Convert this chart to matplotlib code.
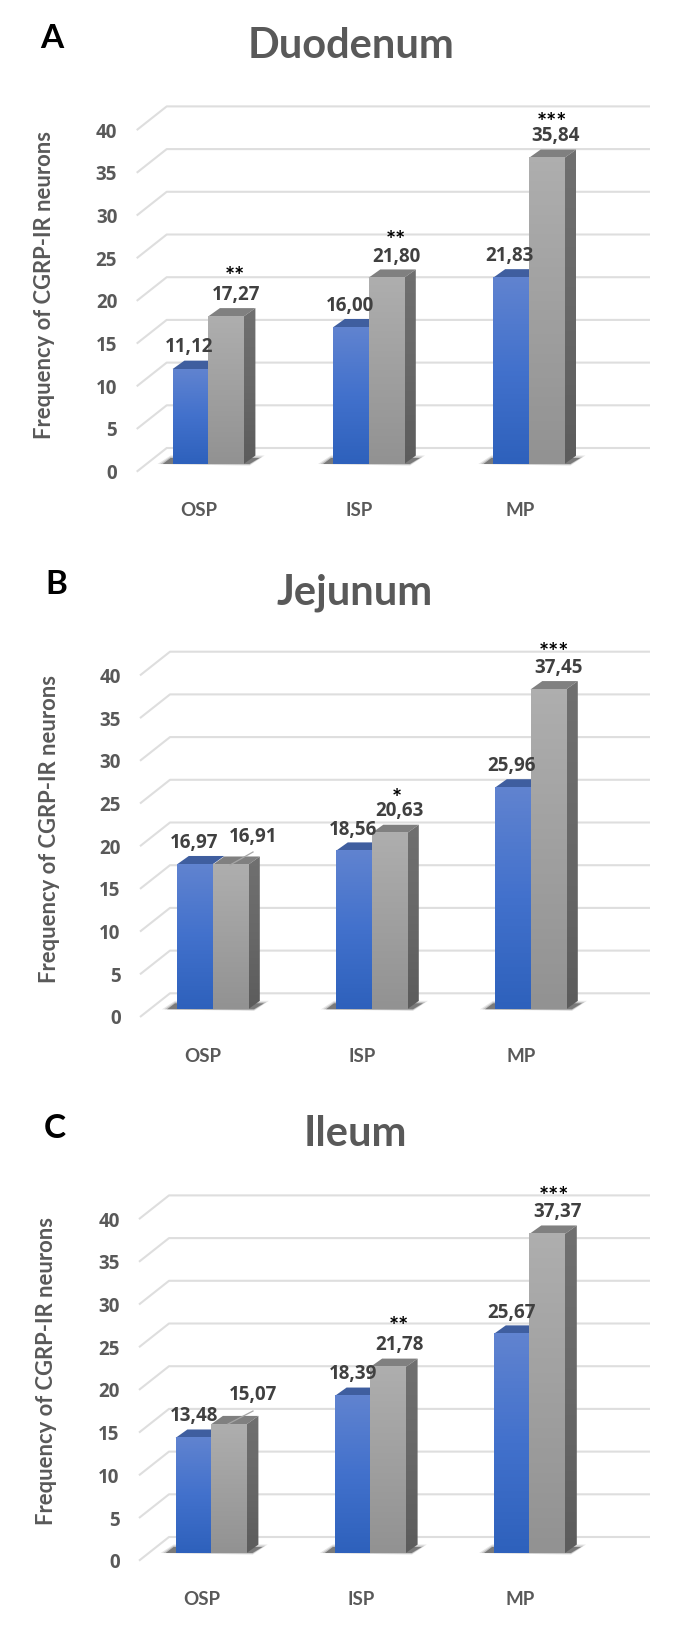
import numpy as np
import matplotlib
matplotlib.use("Agg")
import matplotlib.pyplot as plt
from matplotlib.patches import Polygon

plt.rcParams['font.family'] = ['Lato', 'DejaVu Sans']
plt.rcParams['font.weight'] = 'bold'

W, H = 673, 1626

#DATA
categories = ["OSP", "ISP", "MP"]
y_ticks = [0, 5, 10, 15, 20, 25, 30, 35, 40]
titles = ["Duodenum", "Jejunum", "Ileum"]
letters = ["A", "B", "C"]
ylabel = "Frequency of CGRP-IR neurons"

blue_duodenum = [11.12, 16.00, 21.83]
grey_duodenum = [17.27, 21.80, 35.84]
blue_jejunum = [16.97, 18.56, 25.96]
grey_jejunum = [16.91, 20.63, 37.45]
blue_ileum = [13.48, 18.39, 25.67]
grey_ileum = [15.07, 21.78, 37.37]

stars_duodenum = ["**", "**", "***"]
stars_jejunum = ["", "*", "***"]
stars_ileum = ["", "**", "***"]

blue_all = [blue_duodenum, blue_jejunum, blue_ileum]
grey_all = [grey_duodenum, grey_jejunum, grey_ileum]
stars_all = [stars_duodenum, stars_jejunum, stars_ileum]

#LAYOUT (pixels of the figure)
front_x = [136.7, 140, 139]
front_y = [471.7, 1017, 1560.7]
group_x = [172.6, 177, 175.6]
group_step = [160.4, 159, 159.2]
title_pos = [(351, 46), (355, 593), (355, 1134)]
letter_pos = [(52, 39), (56, 585), (55, 1128)]
ylabel_pos = [(45, 285), (50, 829), (47, 1371)]
blue_lab = [[(189, 347), (350, 306), (509, 256)],
            [(194, 843), (353, 830), (512, 766)],
            [(194, 1416), (353, 1374), (512, 1313)]]
grey_lab = [[(236, 295), (396, 257), (556, 136)],
            [(253, 837), (399, 811), (559, 668)],
            [(253, 1395), (399, 1345), (558, 1212)]]
star_lab = [[(235, 278), (396, 241), (552, 123)],
            [None, (397, 799), (554, 653)],
            [None, (399, 1327), (554, 1197)]]
leaders = [None, ((230, 865), (253, 852)), ((228, 1424), (253, 1411))]

px_unit = 8.54
bar_w = 35.5
base_up = 7.7
grid_dx, grid_dy = 30, 23.7
bar_dx, bar_dy = 11.8, 8.4


def fig_xy(p):
    return p[0] / W, 1 - p[1] / H


def blend(c1, c2, c3, n=64):
    # vertical gradient, top colour first
    c1, c2, c3 = [np.array(matplotlib.colors.to_rgb(c)) for c in (c1, c2, c3)]
    t = np.linspace(0, 1, n)[:, None]
    return np.where(t < 0.5, c1 + (c2 - c1) * t * 2, c2 + (c3 - c2) * (t - 0.5) * 2)[:, None, :]


blue_grad = blend("#6083D0", "#4271CC", "#2E61BC")
grey_grad = blend("#AEAEAE", "#A0A0A0", "#929292")
side_grad = blend("#707070", "#686868", "#5C5C5C")

fig = plt.figure(figsize=(W / 100, H / 100), dpi=100)

for p in range(3):
    left = front_x[p]
    right = 650
    step = group_step[p]
    x0 = group_x[p]
    ax = fig.add_axes([left / W, 1 - front_y[p] / H, (right - left) / W, 40 * px_unit / H])

    # x in group units, y in chart values
    xlim = ((left - x0) / step, (right - x0) / step)
    dx = lambda v: v / step
    dy = lambda v: v / px_unit
    bw = dx(bar_w)
    base = dy(base_up)

    # gridlines run back from the front edge and then across
    for t in y_ticks:
        ax.plot([xlim[0], xlim[0] + dx(grid_dx), xlim[1]],
                [t, t + dy(grid_dy), t + dy(grid_dy)],
                color="#DEDEDE", lw=1.5, zorder=1, clip_on=False, solid_capstyle="butt")

    for i in range(3):
        xb = i
        xg = i + bw
        xr = i + 2 * bw
        bar_sx, bar_sy = dx(bar_dx), dy(bar_dy)

        # shadow on the floor
        for grow, a in [(5, 0.12), (2.5, 0.2), (0, 0.5)]:
            shadow = [(xb - dx(10 + grow), base), (xb - dx(2), base + dy(6 + grow / 2)),
                      (xr + dx(16 + grow), base + dy(6 + grow / 2)), (xr + dx(6), base - dy(grow / 3))]
            ax.add_patch(Polygon(shadow, closed=True, fc="#333333", ec="none", alpha=a, zorder=2))

        # blue bar, then the grey one in front of its side
        top = blue_all[p][i] + base
        ax.add_patch(Polygon([(xb, top), (xb + bar_sx, top + bar_sy), (xg + bar_sx, top + bar_sy), (xg, top)],
                             closed=True, fc="#3F5E9F", ec="none", zorder=3))
        ax.imshow(blue_grad, extent=[xb, xg, base, top], aspect="auto", zorder=4)

        top = grey_all[p][i] + base
        ax.add_patch(Polygon([(xg, top), (xg + bar_sx, top + bar_sy), (xr + bar_sx, top + bar_sy), (xr, top)],
                             closed=True, fc="#808080", ec="none", zorder=5))
        side = Polygon([(xr, base), (xr + bar_sx, base + bar_sy), (xr + bar_sx, top + bar_sy), (xr, top)],
                       closed=True, transform=ax.transData, fc="none", ec="none")
        ax.add_patch(side)
        im = ax.imshow(side_grad, extent=[xr, xr + bar_sx, base, top + bar_sy], aspect="auto", zorder=5)
        im.set_clip_path(side)
        ax.imshow(grey_grad, extent=[xg, xr, base, top], aspect="auto", zorder=6)

    ax.set_xlim(xlim)
    ax.set_ylim(0, 40)
    ax.patch.set_alpha(0)
    for s in ax.spines.values():
        s.set_visible(False)
    ax.set_yticks(y_ticks)
    ax.set_yticklabels([str(t) for t in y_ticks], fontsize=13.5, color="#595959", family="Open Sans")
    ax.set_xticks([i + 0.165 for i in range(3)])
    ax.set_xticklabels(categories, fontsize=13.5, color="#595959")
    ax.tick_params(axis="y", length=0, pad=14)
    ax.tick_params(axis="x", length=0, pad=22)

    # data labels, stars and the titles are placed by hand like in the original
    for i in range(3):
        x, y = fig_xy(blue_lab[p][i])
        fig.text(x, y, f"{blue_all[p][i]:.2f}".replace(".", ","), fontsize=13.5, color="#404040",
                 family="Open Sans", ha="center", va="center", zorder=10)
        x, y = fig_xy(grey_lab[p][i])
        fig.text(x, y, f"{grey_all[p][i]:.2f}".replace(".", ","), fontsize=13.5, color="#404040",
                 family="Open Sans", ha="center", va="center", zorder=10)
        if star_lab[p][i] is not None:
            x, y = fig_xy(star_lab[p][i])
            fig.text(x, y, stars_all[p][i], fontsize=17, color="black", ha="center", va="center", zorder=10)

    if leaders[p] is not None:
        a, b = leaders[p]
        fig.add_artist(plt.Line2D([a[0] / W, b[0] / W], [1 - a[1] / H, 1 - b[1] / H],
                                  color="#A6A6A6", lw=0.9, zorder=9))

    x, y = fig_xy(title_pos[p])
    fig.text(x, y, titles[p], fontsize=30, color="#595959", ha="center", va="center")
    x, y = fig_xy(letter_pos[p])
    fig.text(x, y, letters[p], fontsize=24, color="black", ha="center", va="center")
    x, y = fig_xy(ylabel_pos[p])
    fig.text(x, y, ylabel, fontsize=15.8, color="#595959", rotation=90, ha="center", va="center")

fig.savefig("out.png", dpi=100, facecolor="white")
